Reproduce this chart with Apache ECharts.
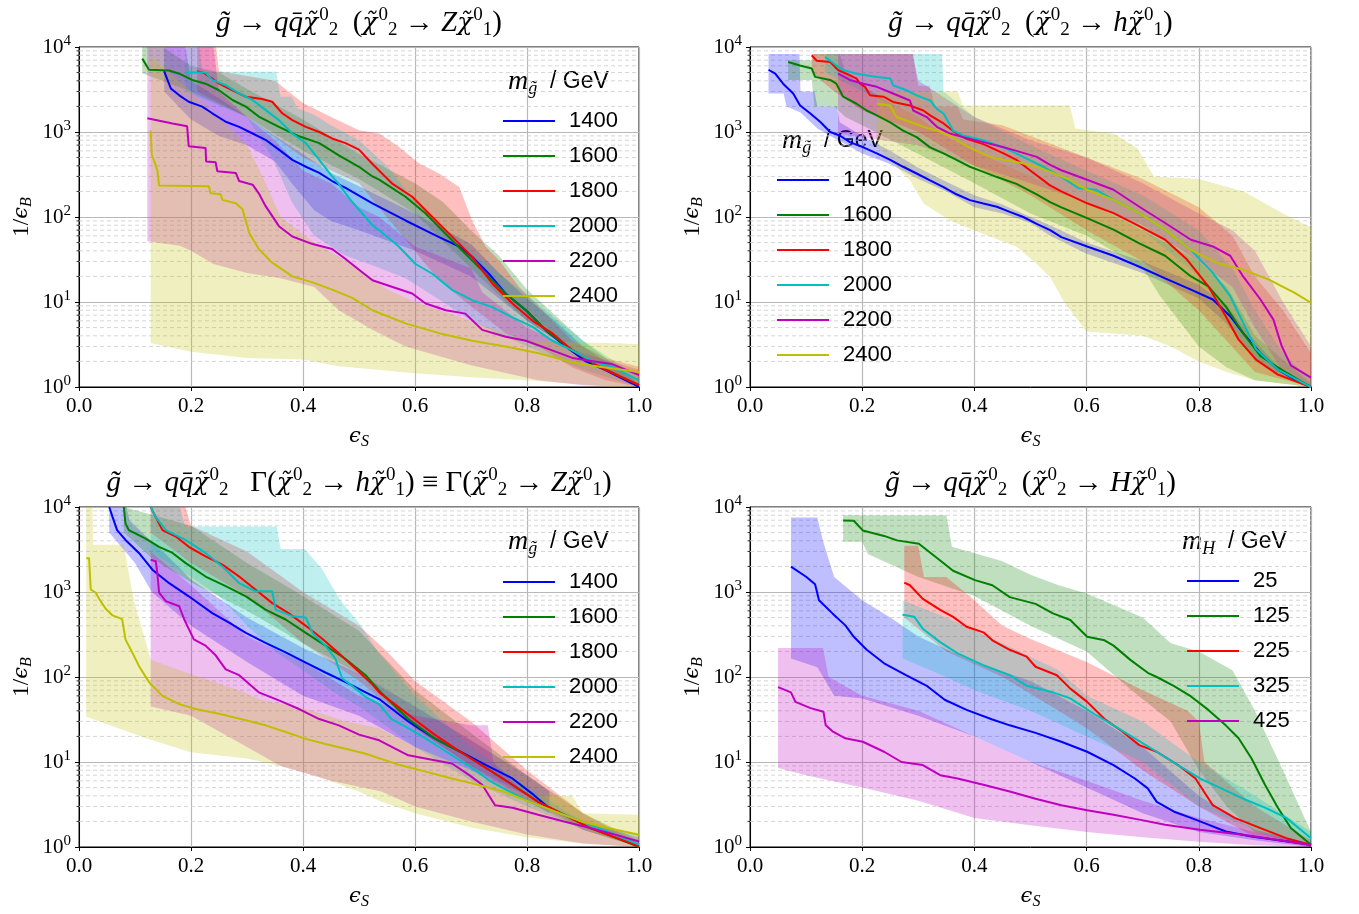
<!DOCTYPE html>
<html><head><meta charset="utf-8">
<script src="https://cdn.jsdelivr.net/npm/echarts@6.0.0/dist/echarts.min.js"></script>
<style>html,body{margin:0;padding:0;background:#fff}#c{width:1359px;height:914px}</style>
</head><body><div id="c"></div><script>
// ---------- tick values / names ----------
const xTicks = [0, 0.2, 0.4, 0.6, 0.8, 1.0];
const yDecades = [1, 10, 100, 1000, 10000];
const minorSteps = [2, 3, 4, 5, 6, 7, 8, 9];
const massNamesG = ['1400', '1600', '1800', '2000', '2200', '2400'];
const massNamesH = ['25', '125', '225', '325', '425'];

// ---------- panel 1: chi2 -> Z chi1 ----------
const zLine1400 = [[0.152,5200],[0.158,4100],[0.164,3250],[0.179,2700],[0.196,2270],[0.220,1990],[0.238,1660],[0.262,1320],[0.286,1150],[0.310,960],[0.333,810],[0.357,620],[0.381,470],[0.405,390],[0.429,330],[0.452,265],[0.476,220],[0.524,145],[0.583,91],[0.643,58],[0.679,45],[0.702,34],[0.732,21.5],[0.762,12.5],[0.798,8],[0.833,4.7],[0.869,3.0],[0.905,2.0],[0.940,1.58],[0.988,1.1],[1.0,1.0]];
const zLine1600 = [[0.113,7300],[0.125,5400],[0.161,5300],[0.179,4850],[0.202,4100],[0.226,3700],[0.250,3100],[0.274,2380],[0.298,1990],[0.321,1520],[0.357,1150],[0.393,890],[0.429,740],[0.464,530],[0.500,390],[0.524,300],[0.536,275],[0.583,173],[0.619,110],[0.655,63],[0.690,37],[0.726,21.5],[0.762,12.5],[0.798,8],[0.833,4.7],[0.881,2.7],[0.929,1.73],[1.0,1.05]];
const zLine1800 = [[0.211,5200],[0.223,4950],[0.238,4250],[0.250,3700],[0.274,3100],[0.298,2600],[0.327,2450],[0.345,2270],[0.363,1660],[0.381,1380],[0.405,1150],[0.429,1000],[0.452,840],[0.476,740],[0.500,620],[0.524,420],[0.560,245],[0.595,173],[0.631,100],[0.667,58],[0.702,34],[0.738,16.5],[0.774,9.6],[0.810,6.0],[0.845,4.3],[0.881,2.7],[0.929,1.73],[1.0,1.05]];
const zLine2000 = [[0.190,5000],[0.226,5000],[0.238,4100],[0.262,3550],[0.286,2850],[0.310,2380],[0.333,1820],[0.357,1380],[0.381,960],[0.405,740],[0.429,470],[0.452,300],[0.464,245],[0.476,190],[0.488,150],[0.506,110],[0.524,80],[0.542,65],[0.571,45],[0.601,28],[0.631,21.5],[0.667,13.8],[0.702,10.5],[0.738,8.7],[0.774,6.6],[0.810,5.1],[0.845,3.5],[0.881,2.7],[0.917,2.0],[0.952,1.73],[1.0,1.2]];
const zLine2200 = [[0.122,1450],[0.167,1260],[0.193,1170],[0.196,680],[0.226,650],[0.227,450],[0.244,440],[0.247,345],[0.280,330],[0.286,265],[0.310,240],[0.321,190],[0.333,135],[0.357,78],[0.381,59],[0.417,48],[0.452,42],[0.476,32],[0.500,24],[0.524,18],[0.560,15],[0.595,12.6],[0.619,9.6],[0.655,8.0],[0.690,7.3],[0.720,4.7],[0.762,3.9],[0.798,3.5],[0.845,2.7],[0.881,2.2],[0.929,1.95],[0.952,1.86],[1.0,1.38]];
const zLine2400 = [[0.128,1040],[0.130,540],[0.140,355],[0.143,234],[0.232,230],[0.235,190],[0.253,185],[0.256,159],[0.280,145],[0.292,123],[0.304,65],[0.321,42],[0.345,29],[0.381,20],[0.417,17],[0.452,14],[0.488,11.2],[0.524,8.0],[0.583,5.6],[0.643,4.3],[0.702,3.5],[0.762,3.0],[0.821,2.5],[0.881,1.95],[0.929,1.73],[1.0,1.5]];
const zBand1400Hi = [[0.152,10000],[0.19,10000],[0.2,4000],[0.25,2500],[0.3,1500],[0.35,900],[0.4,550],[0.45,330],[0.5,230],[0.6,110],[0.7,48],[0.75,22],[0.8,11],[0.85,6],[0.9,3],[1.0,1.1]];
const zBand1400Lo = [[0.152,3000],[0.2,1400],[0.25,900],[0.3,700],[0.35,450],[0.38,250],[0.42,120],[0.45,90],[0.5,70],[0.6,40],[0.7,20],[0.75,11],[0.8,6],[0.9,2.2],[1.0,1.0]];
const zBand1600Hi = [[0.113,10000],[0.15,10000],[0.2,6000],[0.25,5000],[0.3,3200],[0.4,1400],[0.5,550],[0.6,250],[0.65,150],[0.7,70],[0.75,35],[0.8,14],[0.9,3.5],[1.0,1.1]];
const zBand1600Lo = [[0.113,4900],[0.2,3000],[0.3,1500],[0.4,600],[0.5,280],[0.6,110],[0.7,25],[0.75,12],[0.8,6],[0.9,2.2],[1.0,1.0]];
const zBand1800Hi = [[0.211,10000],[0.245,10000],[0.25,5200],[0.35,4000],[0.4,2200],[0.45,1500],[0.5,1050],[0.536,960],[0.571,670],[0.607,430],[0.643,325],[0.679,225],[0.702,91],[0.726,45],[0.75,31],[0.786,15],[0.833,7.3],[0.881,3.5],[0.94,2.2],[1.0,1.73]];
const zBand1800Lo = [[0.211,3000],[0.3,1500],[0.4,500],[0.5,250],[0.583,54],[0.643,18],[0.702,8.7],[0.762,4.3],[0.821,3.0],[0.881,1.7],[0.94,1.2],[1.0,1.0]];
const zBand2000Hi = [[0.19,10000],[0.215,10000],[0.22,5100],[0.352,5100],[0.36,2600],[0.38,2600],[0.39,1900],[0.42,1600],[0.45,1200],[0.5,800],[0.55,400],[0.6,150],[0.7,40],[0.8,12],[0.9,3.5],[1.0,1.3]];
const zBand2000Lo = [[0.19,3000],[0.3,1500],[0.345,500],[0.38,150],[0.42,60],[0.476,35],[0.524,27],[0.583,19],[0.65,10],[0.7,6],[0.8,3],[0.9,1.6],[1.0,1.0]];
const zBand2200Hi = [[0.122,10000],[0.24,10000],[0.25,3000],[0.3,1500],[0.35,800],[0.4,350],[0.45,250],[0.5,130],[0.536,100],[0.6,45],[0.7,25],[0.72,13],[0.8,5],[0.9,2.5],[1.0,1.6]];
const zBand2200Lo = [[0.122,52],[0.18,46],[0.2,40],[0.24,28],[0.3,22],[0.36,19],[0.42,15],[0.464,8],[0.524,4.7],[0.583,3.0],[0.7,1.8],[0.82,1.2],[0.9,1.05],[1.0,1.0]];
const zBand2400Hi = [[0.128,8000],[0.2,3000],[0.25,1500],[0.3,700],[0.33,280],[0.36,100],[0.42,50],[0.5,25],[0.55,14],[0.6,10],[0.7,6],[0.8,3.5],[1.0,3.2]];
const zBand2400Lo = [[0.128,3.3],[0.2,2.6],[0.3,2.2],[0.4,2.1],[0.464,1.75],[0.6,1.45],[0.7,1.3],[0.8,1.2],[0.881,1.1],[0.95,1.0],[1.0,1.0]];

// ---------- panel 2: chi2 -> h chi1 ----------
const hLine1400 = [[0.033,5400],[0.045,4850],[0.059,3700],[0.077,2840],[0.089,2060],[0.107,1660],[0.125,1320],[0.143,1000],[0.160,910],[0.178,760],[0.202,660],[0.226,560],[0.250,470],[0.273,390],[0.297,325],[0.321,270],[0.345,225],[0.368,185],[0.392,158],[0.416,144],[0.440,132],[0.463,115],[0.487,100],[0.511,83],[0.535,70],[0.555,58],[0.601,45],[0.648,35],[0.694,26],[0.740,19],[0.786,14],[0.825,10.7],[0.856,6.8],[0.879,4.3],[0.910,2.5],[0.941,1.6],[0.971,1.23],[1.0,1.0]];
const hLine1600 = [[0.068,6650],[0.089,6050],[0.110,5600],[0.116,4450],[0.143,4100],[0.154,3700],[0.166,2600],[0.190,2150],[0.208,1790],[0.226,1570],[0.250,1300],[0.273,1040],[0.297,870],[0.321,660],[0.345,560],[0.368,470],[0.392,390],[0.416,340],[0.440,295],[0.475,245],[0.511,185],[0.535,150],[0.555,130],[0.601,97],[0.648,71],[0.694,49],[0.740,35],[0.786,20],[0.817,15.3],[0.848,8.9],[0.879,4.3],[0.910,2.3],[0.956,1.48],[1.0,1.0]];
const hLine1800 = [[0.110,8000],[0.119,6900],[0.143,6650],[0.157,5350],[0.172,4850],[0.190,4250],[0.196,3700],[0.205,3400],[0.214,2700],[0.238,2600],[0.255,2260],[0.285,2050],[0.309,1790],[0.321,1570],[0.345,1260],[0.368,960],[0.386,830],[0.416,720],[0.452,560],[0.475,470],[0.499,355],[0.523,270],[0.535,235],[0.555,200],[0.601,145],[0.648,111],[0.694,78],[0.740,54],[0.779,31.6],[0.817,15.3],[0.848,6.8],[0.871,3.6],[0.902,2.1],[0.941,1.4],[1.0,1.0]];
const hLine2000 = [[0.134,7650],[0.154,6050],[0.166,5350],[0.190,4850],[0.226,4450],[0.250,4250],[0.255,3550],[0.279,3100],[0.297,2700],[0.321,2350],[0.333,1870],[0.345,1650],[0.362,1040],[0.380,910],[0.416,800],[0.452,660],[0.487,510],[0.523,390],[0.555,297],[0.586,218],[0.617,209],[0.648,159],[0.694,111],[0.740,71],[0.786,41],[0.825,22],[0.856,11.7],[0.879,5.7],[0.902,2.8],[0.941,1.6],[1.0,1.0]];
const hLine2200 = [[0.157,4850],[0.178,4100],[0.202,3700],[0.226,3400],[0.255,2840],[0.285,2350],[0.291,1790],[0.315,1500],[0.333,1150],[0.356,960],[0.380,870],[0.416,760],[0.452,660],[0.475,600],[0.511,510],[0.535,410],[0.555,355],[0.601,274],[0.648,209],[0.694,132],[0.740,85],[0.786,54],[0.825,45],[0.856,35],[0.879,20],[0.910,10.7],[0.933,6.2],[0.948,3.0],[0.964,1.8],[1.0,1.29]];
const hLine2400 = [[0.226,2150],[0.250,2050],[0.261,1500],[0.285,1320],[0.309,1150],[0.333,1040],[0.356,910],[0.380,720],[0.404,600],[0.428,510],[0.452,470],[0.475,445],[0.511,390],[0.535,340],[0.570,274],[0.601,209],[0.648,159],[0.694,111],[0.740,71],[0.786,41],[0.832,29],[0.879,24],[0.925,18.3],[0.971,12.8],[1.0,9.8]];
const hBand1400Hi = [[0.033,8300],[0.088,8300],[0.09,3000],[0.115,3000],[0.12,2000],[0.155,2000],[0.16,1300],[0.2,900],[0.25,600],[0.3,380],[0.35,260],[0.4,180],[0.45,140],[0.5,100],[0.535,80],[0.6,50],[0.7,30],[0.8,16],[0.85,9],[0.9,3.5],[0.95,1.5],[1.0,1.05]];
const hBand1400Lo = [[0.033,2840],[0.06,2840],[0.065,2000],[0.09,1700],[0.12,1100],[0.15,850],[0.2,560],[0.25,420],[0.3,280],[0.35,200],[0.4,130],[0.45,110],[0.5,85],[0.535,60],[0.6,37],[0.7,22],[0.8,11],[0.85,5.5],[0.9,2.2],[0.95,1.3],[1.0,1.0]];
const hBand1600Hi = [[0.068,7000],[0.11,7000],[0.115,8300],[0.16,8300],[0.17,5000],[0.2,3500],[0.25,2200],[0.3,1500],[0.35,900],[0.4,600],[0.5,300],[0.6,150],[0.7,70],[0.8,30],[0.85,15],[0.9,4],[1.0,1.1]];
const hBand1600Lo = [[0.068,4100],[0.11,4100],[0.115,2000],[0.15,2000],[0.17,1500],[0.2,1200],[0.3,550],[0.4,250],[0.5,110],[0.6,60],[0.7,25],[0.73,12],[0.8,3],[0.85,1.7],[0.9,1.2],[1.0,1.0]];
const hBand1800Hi = [[0.11,8300],[0.29,8300],[0.3,3500],[0.32,3500],[0.33,2000],[0.37,2000],[0.38,1400],[0.45,1200],[0.5,900],[0.6,500],[0.7,280],[0.8,130],[0.86,60],[0.9,20],[0.95,8],[1.0,2.5]];
const hBand1800Lo = [[0.11,5000],[0.15,3000],[0.2,1800],[0.3,1000],[0.4,400],[0.5,180],[0.6,70],[0.7,30],[0.8,8],[0.9,1.5],[1.0,1.0]];
const hBand2000Hi = [[0.134,8300],[0.342,8300],[0.345,3000],[0.4,1500],[0.5,700],[0.6,350],[0.7,180],[0.8,70],[0.86,25],[0.9,8],[0.95,2.5],[1.0,1.2]];
const hBand2000Lo = [[0.134,5000],[0.2,3000],[0.3,1500],[0.4,600],[0.5,300],[0.6,150],[0.7,70],[0.8,20],[0.86,5],[0.9,2],[1.0,1.0]];
const hBand2200Hi = [[0.157,8300],[0.29,8300],[0.3,4000],[0.4,1500],[0.5,800],[0.6,500],[0.7,250],[0.8,110],[0.86,70],[0.9,40],[0.95,10],[1.0,3]];
const hBand2200Lo = [[0.157,950],[0.3,700],[0.4,400],[0.5,250],[0.6,150],[0.7,80],[0.8,30],[0.86,15],[0.9,5],[0.95,1.5],[1.0,1.0]];
const hBand2400Hi = [[0.226,3000],[0.37,3000],[0.38,2050],[0.57,2050],[0.58,1100],[0.65,950],[0.69,650],[0.72,300],[0.8,280],[0.88,200],[0.95,110],[1.0,75]];
const hBand2400Lo = [[0.226,660],[0.285,270],[0.309,145],[0.356,91],[0.416,63],[0.475,45],[0.511,28],[0.535,19.5],[0.56,10],[0.6,4.5],[0.7,4],[0.75,3],[0.8,2],[0.85,1.5],[0.9,1.2],[1.0,1.0]];

// ---------- panel 3: equal widths ----------
const bLine1400 = [[0.054,10000],[0.060,7600],[0.068,5350],[0.083,4100],[0.107,2880],[0.131,1830],[0.161,1270],[0.196,890],[0.238,565],[0.268,435],[0.298,330],[0.333,252],[0.369,195],[0.405,148],[0.440,113],[0.476,87],[0.512,66],[0.536,55],[0.588,30],[0.635,19],[0.681,13.2],[0.727,9.2],[0.774,6.4],[0.812,4.1],[0.839,2.9]];
const bLine1600 = [[0.080,10000],[0.083,6400],[0.089,5350],[0.119,4250],[0.143,3400],[0.167,2880],[0.190,2200],[0.226,1520],[0.262,1170],[0.298,890],[0.333,620],[0.369,475],[0.405,330],[0.440,234],[0.476,163],[0.512,105],[0.536,69],[0.588,32],[0.635,19],[0.681,13.2],[0.727,8.5],[0.774,5.4],[0.820,3.4],[0.866,2.4],[0.913,1.67],[0.959,1.28],[1.0,1.0]];
const bLine1800 = [[0.128,10000],[0.137,7600],[0.149,5350],[0.173,4500],[0.196,3400],[0.226,2630],[0.256,2100],[0.286,1520],[0.315,1070],[0.345,740],[0.375,560],[0.405,400],[0.435,280],[0.464,190],[0.494,125],[0.524,82],[0.536,66],[0.573,43],[0.604,30],[0.635,21],[0.681,13.2],[0.727,8.5],[0.774,5.4],[0.820,3.4],[0.866,2.4],[0.913,1.67],[1.0,1.02]];
const bLine2000 = [[0.128,10000],[0.137,7600],[0.155,5350],[0.190,4100],[0.226,2880],[0.256,2000],[0.286,1270],[0.315,1020],[0.345,1020],[0.351,620],[0.381,520],[0.405,500],[0.417,330],[0.440,234],[0.458,163],[0.470,96],[0.494,73],[0.512,58],[0.536,48],[0.558,32],[0.588,25],[0.619,19],[0.666,12],[0.712,7.7],[0.735,5.9],[0.758,4.9],[0.805,3.4],[0.851,2.6],[0.897,2.0],[0.944,1.52],[1.0,1.07]];
const bLine2200 = [[0.128,2400],[0.137,2300],[0.140,1660],[0.143,980],[0.155,780],[0.179,680],[0.188,475],[0.205,277],[0.226,234],[0.244,180],[0.262,123],[0.286,105],[0.321,66],[0.357,53],[0.393,42],[0.429,32],[0.464,27],[0.500,21],[0.536,18],[0.588,12],[0.635,10.5],[0.666,9.6],[0.697,7.0],[0.720,5.4],[0.743,3.1],[0.774,2.9],[0.820,2.4],[0.866,2.0],[0.913,1.67],[0.959,1.39],[1.0,1.16]];
const bLine2400 = [[0.013,2500],[0.018,2500],[0.021,1070],[0.030,980],[0.036,830],[0.048,630],[0.060,530],[0.077,480],[0.083,277],[0.095,195],[0.107,135],[0.125,87],[0.149,60],[0.179,48],[0.208,42],[0.250,37],[0.298,31],[0.333,27],[0.369,22.5],[0.405,18.7],[0.440,16.3],[0.476,14.3],[0.512,12.5],[0.573,9.2],[0.619,7.7],[0.666,6.4],[0.712,5.4],[0.758,4.5],[0.805,3.4],[0.851,2.6],[0.897,2.0],[0.944,1.67],[1.0,1.39]];
const bBand1400Hi = [[0.054,10000],[0.085,10000],[0.09,7000],[0.12,4500],[0.15,3000],[0.2,1400],[0.3,500],[0.4,220],[0.5,110],[0.6,45],[0.7,18],[0.8,7],[0.84,4.5]];
const bBand1400Lo = [[0.054,5000],[0.1,2200],[0.13,1000],[0.2,400],[0.3,150],[0.4,60],[0.5,35],[0.6,15],[0.7,8],[0.8,3.5],[0.84,2.5]];
const bBand1600Hi = [[0.080,10000],[0.2,6000],[0.3,2200],[0.4,900],[0.5,350],[0.6,70],[0.7,22],[0.8,7],[0.9,2.5],[1.0,1.2]];
const bBand1600Lo = [[0.080,5000],[0.13,2500],[0.2,1300],[0.3,600],[0.4,250],[0.5,110],[0.6,25],[0.7,9],[0.8,4],[0.9,1.6],[1.0,1.0]];
const bBand1800Hi = [[0.128,10000],[0.19,10000],[0.2,6000],[0.3,3000],[0.4,1000],[0.5,400],[0.55,200],[0.6,90],[0.7,30],[0.8,8],[0.9,2.5],[1.0,1.1]];
const bBand1800Lo = [[0.128,5000],[0.2,2200],[0.3,900],[0.4,250],[0.5,90],[0.6,25],[0.7,9],[0.8,3.5],[0.9,1.6],[1.0,1.0]];
const bBand2000Hi = [[0.128,10000],[0.18,10000],[0.19,5900],[0.353,5900],[0.36,3200],[0.403,3200],[0.434,1860],[0.465,830],[0.503,405],[0.534,196],[0.6,60],[0.7,15],[0.8,5],[0.9,2],[1.0,1.4]];
const bBand2000Lo = [[0.128,3000],[0.2,1500],[0.25,900],[0.3,400],[0.35,200],[0.4,120],[0.45,70],[0.5,45],[0.6,15],[0.7,6],[0.8,3],[0.9,1.6],[1.0,1.0]];
const bBand2200Hi = [[0.128,3000],[0.2,1200],[0.3,300],[0.4,150],[0.5,60],[0.6,35],[0.7,27],[0.73,27],[0.74,10],[0.8,4],[0.9,2],[1.0,1.3]];
const bBand2200Lo = [[0.128,45],[0.2,35],[0.3,15],[0.36,9],[0.45,6],[0.54,4.5],[0.6,3],[0.7,2],[0.8,1.4],[0.9,1.1],[1.0,1.0]];
const bBand2400Hi = [[0.013,10000],[0.024,10000],[0.025,3600],[0.08,3600],[0.09,1500],[0.1,700],[0.12,250],[0.128,160],[0.196,110],[0.286,70],[0.321,55],[0.417,40],[0.476,30],[0.536,25],[0.6,15],[0.7,8],[0.8,4],[0.88,4],[0.9,2.5],[1.0,2.4]];
const bBand2400Lo = [[0.013,34],[0.12,19],[0.2,13],[0.3,11],[0.36,9],[0.42,7],[0.5,4.5],[0.54,3.4],[0.6,2.5],[0.7,1.7],[0.8,1.3],[0.9,1.1],[1.0,1.0]];

// ---------- panel 4: chi2 -> H chi1 ----------
const HLine25 = [[0.073,1990],[0.100,1510],[0.116,1230],[0.123,800],[0.147,560],[0.170,405],[0.185,297],[0.208,209],[0.239,145],[0.278,105],[0.316,78],[0.347,54],[0.386,41],[0.432,31.6],[0.463,27],[0.509,22],[0.555,17.3],[0.601,13.2],[0.648,9.2],[0.686,6.4],[0.709,4.9],[0.725,3.4],[0.756,2.6],[0.786,2.2],[0.817,1.83],[0.848,1.52],[0.894,1.33],[0.956,1.17],[1.0,1.06]];
const HLine125 = [[0.166,6950],[0.185,6900],[0.201,5300],[0.239,4570],[0.262,4050],[0.301,3700],[0.339,2350],[0.362,1780],[0.401,1380],[0.432,1200],[0.463,870],[0.509,725],[0.540,560],[0.571,468],[0.601,297],[0.632,270],[0.648,234],[0.678,159],[0.709,112],[0.725,100],[0.756,78],[0.786,59],[0.817,41],[0.848,27],[0.871,19],[0.894,11],[0.918,5.4],[0.941,2.9],[0.964,1.67],[1.0,1.06]];
const HLine225 = [[0.275,1290],[0.285,1200],[0.308,830],[0.339,615],[0.362,510],[0.386,390],[0.416,335],[0.432,270],[0.463,209],[0.493,174],[0.509,132],[0.547,105],[0.571,73],[0.601,51],[0.632,32],[0.663,23],[0.694,15.8],[0.725,13.2],[0.763,9.2],[0.794,6.4],[0.809,4.5],[0.825,3.1],[0.864,2.2],[0.910,1.67],[0.956,1.27],[1.0,1.06]];
const HLine325 = [[0.272,540],[0.293,510],[0.308,370],[0.339,257],[0.370,190],[0.416,138],[0.463,105],[0.493,79],[0.540,66],[0.571,56],[0.617,35.5],[0.648,27],[0.686,19],[0.725,13.2],[0.763,9.2],[0.802,6.4],[0.840,4.9],[0.879,3.7],[0.918,2.9],[0.956,2.2],[1.0,1.27]];
const HLine425 = [[0.050,76],[0.073,66],[0.081,51],[0.108,43],[0.131,39],[0.135,27],[0.147,23],[0.170,19],[0.201,17.3],[0.239,13.2],[0.270,10],[0.308,9.2],[0.339,7.0],[0.370,6.4],[0.416,5.4],[0.463,4.5],[0.509,3.7],[0.555,3.1],[0.601,2.7],[0.648,2.4],[0.694,2.1],[0.740,1.83],[0.802,1.6],[0.879,1.39],[0.956,1.17],[1.0,1.06]];
const HBand25Hi = [[0.073,7500],[0.12,7500],[0.13,4000],[0.15,1500],[0.2,800],[0.25,500],[0.3,300],[0.4,150],[0.5,90],[0.6,40],[0.7,15],[0.8,4],[0.9,1.6],[1.0,1.1]];
const HBand25Lo = [[0.073,165],[0.12,130],[0.15,60],[0.2,56],[0.3,35],[0.4,20],[0.5,10],[0.6,5],[0.7,2.5],[0.8,1.5],[0.9,1.2],[1.0,1.0]];
const HBand125Hi = [[0.166,8000],[0.35,8000],[0.36,3400],[0.45,2300],[0.5,1600],[0.55,1200],[0.6,960],[0.7,500],[0.75,250],[0.8,200],[0.86,120],[0.9,40],[0.95,8],[1.0,1.5]];
const HBand125Lo = [[0.166,3900],[0.2,3900],[0.21,2800],[0.3,1500],[0.4,900],[0.5,400],[0.6,200],[0.68,70],[0.75,30],[0.8,8],[0.85,3],[0.9,1.5],[1.0,1.0]];
const HBand225Hi = [[0.275,3500],[0.3,3500],[0.31,1500],[0.35,1500],[0.4,800],[0.45,400],[0.5,280],[0.6,150],[0.7,70],[0.78,40],[0.8,30],[0.81,10],[0.9,3],[1.0,1.2]];
const HBand225Lo = [[0.275,500],[0.35,200],[0.45,100],[0.55,40],[0.6,25],[0.7,8],[0.8,3],[0.9,1.3],[1.0,1.0]];
const HBand325Hi = [[0.272,800],[0.35,500],[0.45,250],[0.55,120],[0.6,60],[0.7,30],[0.8,10],[0.9,4],[1.0,1.5]];
const HBand325Lo = [[0.272,165],[0.35,100],[0.4,70],[0.5,40],[0.6,20],[0.7,10],[0.8,3],[0.9,1.6],[1.0,1.0]];
const HBand425Hi = [[0.050,220],[0.13,220],[0.14,100],[0.2,60],[0.3,40],[0.4,20],[0.5,10],[0.6,6],[0.7,3.5],[0.8,2.2],[0.9,1.5],[1.0,1.1]];
const HBand425Lo = [[0.050,8.5],[0.1,7],[0.2,5],[0.3,3.5],[0.4,2.2],[0.5,1.8],[0.6,1.5],[0.7,1.3],[0.8,1.15],[0.9,1.05],[1.0,1.0]];

// ---------- styles & layout ----------
const lineColors = ['#0000ff', '#008000', '#ff0000', '#00bfbf', '#bf00bf', '#bfbf00'];
const SERIF = 'Liberation Serif';
const GREEK = 'DejaVu Serif';
const SANS = 'Liberation Sans';

const panels = [
  { grid: {left: 79, top: 47, width: 560, height: 340}, names: massNamesG,
    lines: [zLine1400, zLine1600, zLine1800, zLine2000, zLine2200, zLine2400],
    his: [zBand1400Hi, zBand1600Hi, zBand1800Hi, zBand2000Hi, zBand2200Hi, zBand2400Hi],
    los: [zBand1400Lo, zBand1600Lo, zBand1800Lo, zBand2000Lo, zBand2200Lo, zBand2400Lo],
    title: '{i|g̃}{r| → }{i|qq̄}{c|χ̃}{sp|0}{sb|2}{r|  (}{c|χ̃}{sp|0}{sb|2}{r| → }{i|Z}{c|χ̃}{sp|0}{sb|1}{r|)}',
    legTitle: '{i|m}{sb|g̃}{s|  / GeV}', legTitlePos: [508, 82], legPos: {left: 498, top: 105} },
  { grid: {left: 750, top: 47, width: 561, height: 340}, names: massNamesG,
    lines: [hLine1400, hLine1600, hLine1800, hLine2000, hLine2200, hLine2400],
    his: [hBand1400Hi, hBand1600Hi, hBand1800Hi, hBand2000Hi, hBand2200Hi, hBand2400Hi],
    los: [hBand1400Lo, hBand1600Lo, hBand1800Lo, hBand2000Lo, hBand2200Lo, hBand2400Lo],
    title: '{i|g̃}{r| → }{i|qq̄}{c|χ̃}{sp|0}{sb|2}{r|  (}{c|χ̃}{sp|0}{sb|2}{r| → }{i|h}{c|χ̃}{sp|0}{sb|1}{r|)}',
    legTitle: '{i|m}{sb|g̃}{s|  / GeV}', legTitlePos: [782, 141], legPos: {left: 772, top: 164} },
  { grid: {left: 79, top: 507, width: 560, height: 340}, names: massNamesG,
    lines: [bLine1400, bLine1600, bLine1800, bLine2000, bLine2200, bLine2400],
    his: [bBand1400Hi, bBand1600Hi, bBand1800Hi, bBand2000Hi, bBand2200Hi, bBand2400Hi],
    los: [bBand1400Lo, bBand1600Lo, bBand1800Lo, bBand2000Lo, bBand2200Lo, bBand2400Lo],
    title: '{i|g̃}{r| → }{i|qq̄}{c|χ̃}{sp|0}{sb|2}{r|   Γ(}{c|χ̃}{sp|0}{sb|2}{r| → }{i|h}{c|χ̃}{sp|0}{sb|1}{r|) ≡ Γ(}{c|χ̃}{sp|0}{sb|2}{r| → }{i|Z}{c|χ̃}{sp|0}{sb|1}{r|)}',
    legTitle: '{i|m}{sb|g̃}{s|  / GeV}', legTitlePos: [508, 542], legPos: {left: 498, top: 566} },
  { grid: {left: 750, top: 507, width: 561, height: 340}, names: massNamesH,
    lines: [HLine25, HLine125, HLine225, HLine325, HLine425],
    his: [HBand25Hi, HBand125Hi, HBand225Hi, HBand325Hi, HBand425Hi],
    los: [HBand25Lo, HBand125Lo, HBand225Lo, HBand325Lo, HBand425Lo],
    title: '{i|g̃}{r| → }{i|qq̄}{c|χ̃}{sp|0}{sb|2}{r|  (}{c|χ̃}{sp|0}{sb|2}{r| → }{i|H}{c|χ̃}{sp|0}{sb|1}{r|)}',
    legTitle: '{i|m}{sb|H}{s|  / GeV}', legTitlePos: [1182, 542], legPos: {left: 1182, top: 565} }
];

function rgba(hex, a) {
  const n = parseInt(hex.slice(1), 16);
  return 'rgba(' + ((n >> 16) & 255) + ',' + ((n >> 8) & 255) + ',' + (n & 255) + ',' + a + ')';
}

const titleRich = {
  i: {fontFamily: SERIF, fontStyle: 'italic', fontSize: 29, color: '#000'},
  c: {fontFamily: GREEK, fontStyle: 'italic', fontSize: 25, color: '#000'},
  r: {fontFamily: SERIF, fontSize: 29, color: '#000'},
  sp: {fontFamily: SERIF, fontSize: 19, color: '#000', padding: [0, 0, 16, 1]},
  sb: {fontFamily: SERIF, fontSize: 19, color: '#000', padding: [14, 0, 0, 0]}
};
const legRich = {
  i: {fontFamily: SERIF, fontStyle: 'italic', fontSize: 28, color: '#000'},
  sb: {fontFamily: SERIF, fontStyle: 'italic', fontSize: 18, color: '#000', padding: [14, 0, 0, 0]},
  s: {fontFamily: SANS, fontSize: 23, color: '#000'}
};
const tickRich = {
  b: {fontFamily: SERIF, fontSize: 21, color: '#000'},
  e: {fontFamily: SERIF, fontSize: 15, color: '#000', padding: [0, 0, 12, 0]}
};
const nameRich = {
  r: {fontFamily: SERIF, fontSize: 23, color: '#000'},
  i: {fontFamily: GREEK, fontStyle: 'italic', fontSize: 21, color: '#000'},
  sb: {fontFamily: SERIF, fontStyle: 'italic', fontSize: 16, color: '#000', padding: [10, 0, 0, 0]}
};

const grids = [], xAxes = [], yAxes = [], series = [], legends = [], graphics = [];

panels.forEach((p, gi) => {
  grids.push(Object.assign({show: true, borderColor: '#000', borderWidth: 1, backgroundColor: 'transparent', containLabel: false}, p.grid));
  xAxes.push({
    type: 'value', gridIndex: gi, min: xTicks[0], max: xTicks[xTicks.length - 1], interval: 0.2,
    name: '{i|ϵ}{sb|S}', nameLocation: 'middle', nameGap: 37, nameTextStyle: {rich: nameRich},
    axisLine: {show: true, lineStyle: {color: '#000', width: 1}},
    axisTick: {show: true, length: 4, lineStyle: {color: '#000'}},
    axisLabel: {margin: 9, fontFamily: SERIF, fontSize: 21, color: '#000', formatter: v => v.toFixed(1)},
    splitLine: {show: true, lineStyle: {color: '#b8b8b8', width: 1.2}}
  });
  yAxes.push({
    type: 'log', logBase: 10, gridIndex: gi, min: yDecades[0], max: yDecades[yDecades.length - 1],
    name: '{r|1/}{i|ϵ}{sb|B}', nameLocation: 'middle', nameGap: 44, nameRotate: 90, nameTextStyle: {rich: nameRich},
    axisLine: {show: true, lineStyle: {color: '#000', width: 1}},
    axisTick: {show: true, length: 4, lineStyle: {color: '#000'}},
    axisLabel: {margin: 8, formatter: v => '{b|10}{e|' + Math.round(Math.log10(v)) + '}', rich: tickRich},
    splitLine: {show: true, lineStyle: {color: '#b8b8b8', width: 1.2}},
    minorTick: {show: false}, minorSplitLine: {show: false}
  });
  // minor log grid lines + minor ticks
  series.push({
    type: 'custom', xAxisIndex: gi, yAxisIndex: gi, silent: true, z: 1, animation: false,
    data: [[0.5, 10]],
    renderItem: function (params, api) {
      const children = [];
      yDecades.slice(0, -1).forEach(d => {
        minorSteps.forEach(m => {
          const v = m * d;
          const a = api.coord([xTicks[0], v]), b = api.coord([xTicks[xTicks.length - 1], v]);
          children.push({type: 'line', shape: {x1: a[0], y1: a[1], x2: b[0], y2: b[1]},
            style: {stroke: '#d0d0d0', lineWidth: 0.9, lineDash: [4, 3]}});
          children.push({type: 'line', shape: {x1: a[0] - 2.5, y1: a[1], x2: a[0], y2: a[1]},
            style: {stroke: '#000', lineWidth: 0.8}});
        });
      });
      return {type: 'group', children: children};
    }
  });
  // bands
  p.lines.forEach((ln, k) => {
    const hi = p.his[k], lo = p.los[k];
    series.push({
      type: 'custom', xAxisIndex: gi, yAxisIndex: gi, silent: true, z: 2, animation: false,
      data: [[0.5, 10]],
      renderItem: function (params, api) {
        const pts = hi.map(q => api.coord(q)).concat(lo.slice().reverse().map(q => api.coord(q)));
        return {type: 'polygon', shape: {points: pts}, style: {fill: rgba(lineColors[k], 0.25)}};
      }
    });
  });
  // median lines
  p.lines.forEach((ln, k) => {
    series.push({
      type: 'line', name: p.names[k], xAxisIndex: gi, yAxisIndex: gi, data: ln,
      showSymbol: false, symbol: 'none', z: 3, animation: false, silent: true,
      lineStyle: {color: lineColors[k], width: 2}, itemStyle: {color: lineColors[k]}
    });
  });
  legends.push({
    data: p.names, left: p.legPos.left, top: p.legPos.top, orient: 'vertical',
    icon: 'rect', itemWidth: 52, itemHeight: 2, itemGap: 13, selectedMode: false,
    textStyle: {fontFamily: SANS, fontSize: 22, color: '#000', lineHeight: 21, padding: [0, 0, 0, 9]}
  });
  graphics.push({
    type: 'text', x: p.grid.left + p.grid.width / 2, y: p.grid.top - 24,
    style: {text: p.title, rich: titleRich, align: 'center', verticalAlign: 'middle'}
  });
  graphics.push({
    type: 'text', x: p.legTitlePos[0], y: p.legTitlePos[1],
    style: {text: p.legTitle, rich: legRich, align: 'left', verticalAlign: 'middle'}
  });
});

const chart = echarts.init(document.getElementById('c'), null, {renderer: 'canvas'});
chart.setOption({
  animation: false,
  backgroundColor: '#fff',
  grid: grids, xAxis: xAxes, yAxis: yAxes, series: series, legend: legends, graphic: graphics
});
</script></body></html>
